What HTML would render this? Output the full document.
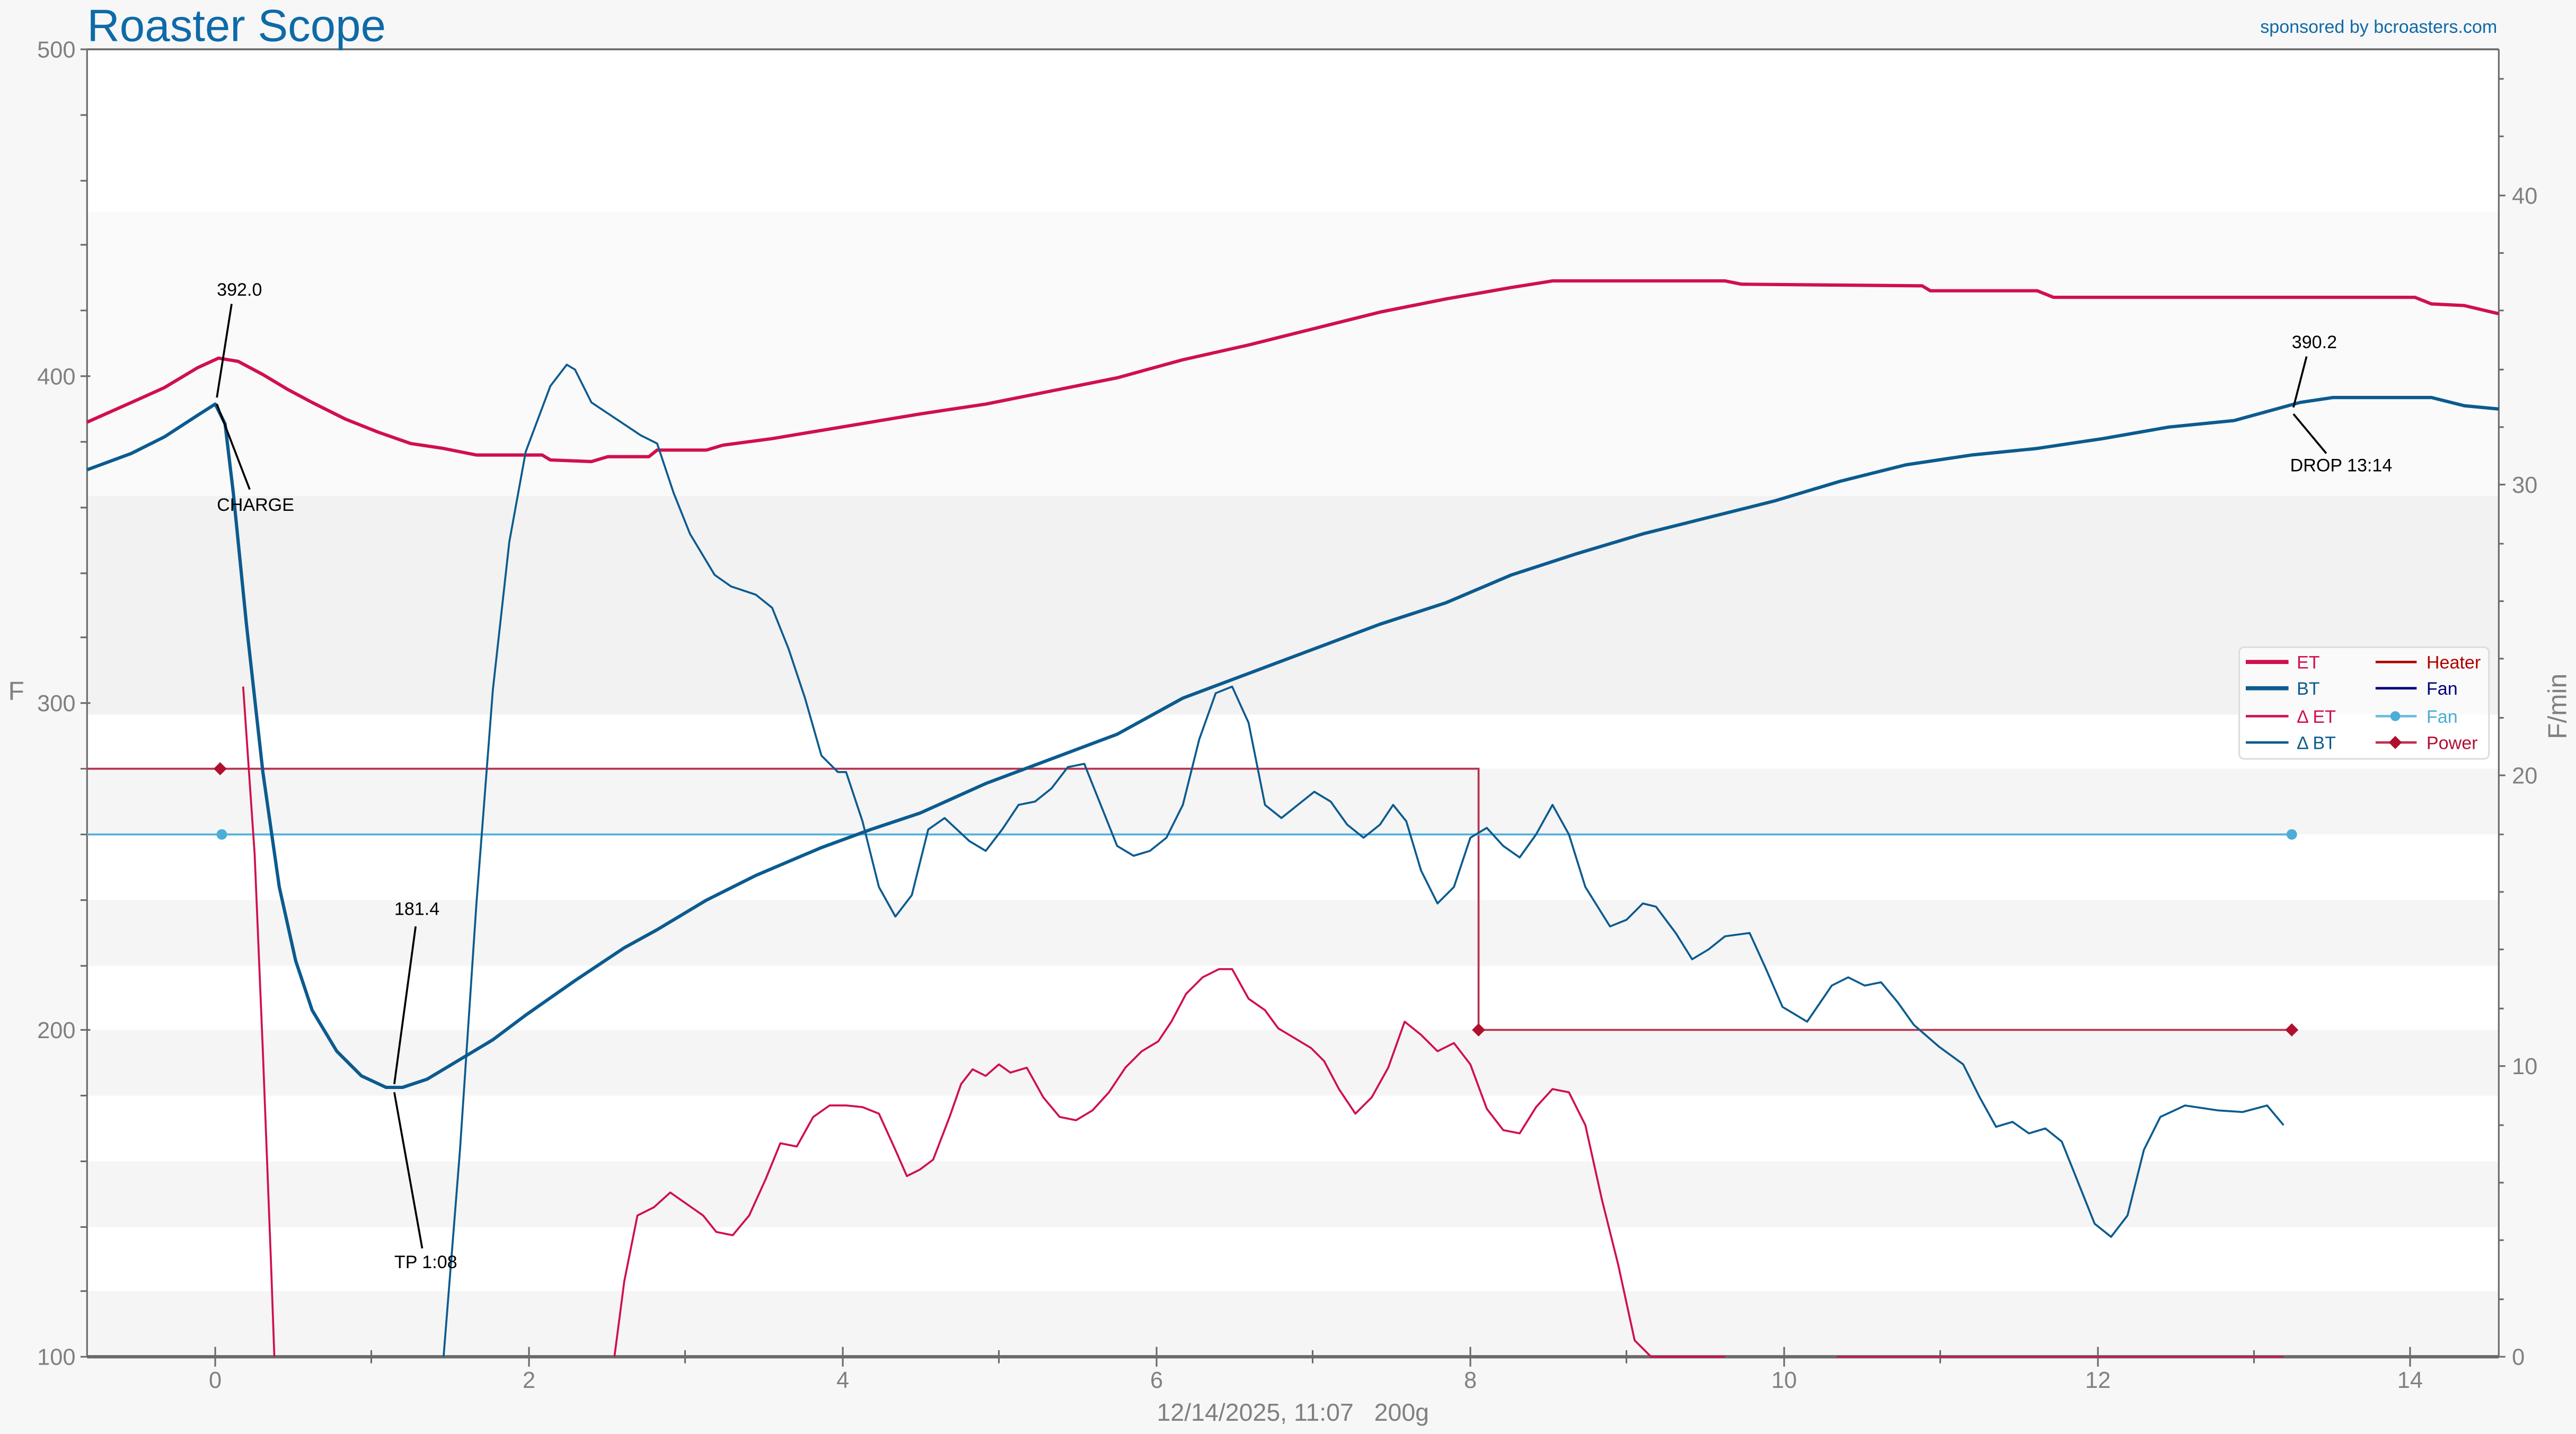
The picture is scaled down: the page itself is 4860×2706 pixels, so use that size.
<!DOCTYPE html>
<html><head><meta charset="utf-8"><style>
html,body{margin:0;padding:0;background:#f7f7f7;}
svg{display:block;font-family:"Liberation Sans",sans-serif;}
</style></head><body>
<svg width="4860" height="2706" viewBox="0 0 1568 873" xmlns="http://www.w3.org/2000/svg">
<rect x="0" y="0" width="1568" height="873" fill="#f7f7f7"/>
<rect x="53" y="30" width="1468" height="99" fill="#ffffff"/>
<rect x="53" y="129" width="1468" height="173" fill="#fafafa"/>
<rect x="53" y="302" width="1468" height="133" fill="#f2f2f2"/>
<rect x="53" y="435" width="1468" height="391" fill="#ffffff"/>
<g fill="#f5f5f5">
<rect x="53" y="468" width="1468" height="40"/>
<rect x="53" y="548" width="1468" height="40"/>
<rect x="53" y="627" width="1468" height="40"/>
<rect x="53" y="707" width="1468" height="40"/>
<rect x="53" y="786" width="1468" height="40"/>
</g>
<g stroke="#6a6a6a" fill="none">
<line x1="53" y1="30" x2="1521" y2="30" stroke-width="1.2"/>
<line x1="53" y1="826" x2="1521" y2="826" stroke-width="2"/>
<line x1="53" y1="30" x2="53" y2="826" stroke-width="1"/>
<line x1="1521" y1="30" x2="1521" y2="826" stroke-width="1"/>
<g stroke-width="1">
<path d="M49 30h6M49 70h4M49 110h4M49 149h4M49 189h4M49 229h6M49 269h4M49 309h4M49 349h4M49 388h4M49 428h6M49 468h4M49 508h4M49 548h4M49 588h4M49 627h6M49 667h4M49 707h4M49 747h4M49 786h4M49 826h6"/>
<path d="M1521 826h4M1521 791h3M1521 755h3M1521 720h3M1521 685h3M1521 649h4M1521 614h3M1521 578h3M1521 543h3M1521 508h3M1521 472h4M1521 437h3M1521 401h3M1521 366h3M1521 331h3M1521 295h4M1521 260h3M1521 225h3M1521 189h3M1521 154h3M1521 119h4M1521 83h3M1521 48h3"/>
<path d="M131 820v12M322 820v12M513 820v12M704 820v12M895 820v12M1086 820v12M1277 820v12M1467 820v12M226 822v8M417 822v8M608 822v8M799 822v8M990 822v8M1181 822v8M1372 822v8"/>
</g>
</g>
<g fill="#808080" font-size="14">
<g text-anchor="end"><text x="46" y="35">500</text><text x="46" y="234">400</text><text x="46" y="433">300</text><text x="46" y="632">200</text><text x="46" y="831">100</text></g>
<text x="1529" y="831">0</text><text x="1529" y="654">10</text><text x="1529" y="477">20</text><text x="1529" y="300">30</text><text x="1529" y="124">40</text>
<g text-anchor="middle"><text x="131" y="845">0</text><text x="322" y="845">2</text><text x="513" y="845">4</text><text x="704" y="845">6</text><text x="895" y="845">8</text><text x="1086" y="845">10</text><text x="1277" y="845">12</text><text x="1467" y="845">14</text>
<text x="787" y="865" font-size="15">12/14/2025, 11:07&#160;&#160;&#160;200g</text></g>
<text x="5" y="426" font-size="16">F</text>
<text transform="translate(1562,430) rotate(-90)" text-anchor="middle" font-size="16">F/min</text>
</g>
<text x="53" y="25" font-size="27.5" fill="#0e6aa8">Roaster Scope</text>
<text x="1520" y="20" font-size="11" fill="#0e6aa8" text-anchor="end">sponsored by bcroasters.com</text>
<polyline fill="none" stroke="#b8324f" stroke-width="1.2" points="53,468 900,468 900,627 1395,627"/>
<polyline fill="none" stroke="#56b0d8" stroke-width="1.2" points="53,508 1395,508"/>
<g fill="#b0102e"><path d="M134 464l4 4-4 4-4-4z"/><path d="M900 623l4 4-4 4-4-4z"/><path d="M1395 623l4 4-4 4-4-4z"/></g>
<g fill="#4aaed6"><circle cx="135" cy="508" r="3.2"/><circle cx="1395" cy="508" r="3.2"/></g>
<polyline fill="none" stroke="#d0104c" stroke-width="2" stroke-linejoin="round" points="53,257 80,245 100,236 120,224 133,218 145,220 160,228 175,237 190,245 210,255 230,263 250,270 270,273 290,277 330,277 335,280 360,281 370,278 395,278 400,274 430,274 440,271 470,267 500,262 530,257 560,252 600,246 640,238 680,230 720,219 760,210 800,200 840,190 880,182 920,175 945,171 1050,171 1060,173 1170,174 1175,177 1240,177 1250,181 1470,181 1480,185 1500,186 1521,191"/>
<polyline fill="none" stroke="#0b5b8f" stroke-width="2" stroke-linejoin="round" points="53,286 80,276 100,266 120,253 131,246 137,258 142,300 150,380 160,470 170,540 180,585 190,615 205,640 220,655 235,662 245,662 260,657 280,645 300,633 320,618 350,597 380,577 400,566 430,548 460,533 500,516 530,505 560,495 600,477 640,462 680,447 720,425 760,410 800,395 840,380 880,367 920,350 960,337 1000,325 1040,315 1080,305 1120,293 1160,283 1200,277 1240,273 1280,267 1320,260 1360,256 1400,245 1420,242 1480,242 1500,247 1521,249"/>
<polyline fill="none" stroke="#0b5b8f" stroke-width="1.2" stroke-linejoin="round" points="270,826 280,700 290,550 300,420 310,330 320,275 335,235 345,222 350,225 360,245 375,255 390,265 400,270 410,300 420,325 435,350 445,357 460,362 470,370 480,395 490,425 500,460 510,470 515,470 525,500 535,540 545,558 555,545 565,505 575,498 590,512 600,518 610,505 620,490 630,488 640,480 650,467 660,465 670,490 680,515 690,521 700,518 710,510 720,490 730,450 740,422 750,418 760,440 770,490 780,498 790,490 800,482 810,488 820,502 830,510 840,502 848,490 856,500 865,530 875,550 885,540 895,510 905,504 915,515 925,522 935,508 945,490 955,508 965,540 980,564 990,560 1000,550 1008,552 1020,568 1030,584 1040,578 1050,570 1065,568 1075,590 1085,613 1100,622 1115,600 1125,595 1135,600 1145,598 1155,610 1165,624 1180,637 1195,648 1205,668 1215,686 1225,683 1235,690 1245,687 1255,695 1265,720 1275,745 1285,753 1295,740 1305,700 1315,680 1330,673 1350,676 1365,677 1380,673 1390,685"/>
<polyline fill="none" stroke="#d0104c" stroke-width="1.2" stroke-linejoin="round" points="148,418 155,520 160,640 165,770 167,826"/>
<polyline fill="none" stroke="#d0104c" stroke-width="1.2" stroke-linejoin="round" points="374,826 380,780 388,740 398,735 408,726 418,733 428,740 436,750 446,752 456,740 466,718 475,696 485,698 495,680 505,673 515,673 525,674 535,678 545,700 552,716 560,712 568,706 578,680 585,660 592,651 600,655 608,648 615,653 625,650 635,668 645,680 655,682 665,676 675,665 685,650 695,640 705,634 713,622 722,605 732,595 742,590 750,590 760,608 770,615 778,626 788,632 798,638 806,646 815,663 825,678 835,668 845,650 855,622 865,630 875,640 885,635 895,648 905,675 915,688 925,690 935,674 945,663 955,665 965,685 975,730 985,770 995,816 1005,826 1050,826"/>
<polyline fill="none" stroke="#d0104c" stroke-width="1" points="1118,826 1170,826 1310,826 1390,826"/>
<g stroke="#000" stroke-width="1.2" fill="none">
<path d="M141 185L132 242M132 246L152 298M253 564L240 660M240 665L257 760M1404 217L1396 248M1396 252L1416 276"/>
</g>
<g font-size="11" fill="#000">
<text x="132" y="180">392.0</text><text x="132" y="311">CHARGE</text>
<text x="240" y="557">181.4</text><text x="240" y="772">TP 1:08</text>
<text x="1395" y="212">390.2</text><text x="1394" y="287">DROP 13:14</text>
</g>
<rect x="1363" y="394" width="152" height="68" rx="3" fill="#ffffff" fill-opacity="0.6" stroke="#dddddd"/>
<g>
<line x1="1367" y1="403" x2="1393" y2="403" stroke="#d0104c" stroke-width="2.5"/>
<line x1="1367" y1="419" x2="1393" y2="419" stroke="#0b5b8f" stroke-width="2.5"/>
<line x1="1367" y1="436" x2="1393" y2="436" stroke="#d0104c" stroke-width="1.5"/>
<line x1="1367" y1="452" x2="1393" y2="452" stroke="#0b5b8f" stroke-width="1.5"/>
<line x1="1446" y1="403" x2="1471" y2="403" stroke="#b00000" stroke-width="1.5"/>
<line x1="1446" y1="419" x2="1471" y2="419" stroke="#000080" stroke-width="1.5"/>
<line x1="1446" y1="436" x2="1471" y2="436" stroke="#6cbbe0" stroke-width="1.5"/>
<line x1="1446" y1="452" x2="1471" y2="452" stroke="#c03050" stroke-width="1.5"/>
</g>
<circle cx="1458" cy="436" r="3" fill="#4aaed6"/>
<path d="M1458 448l4 4-4 4-4-4z" fill="#b0102e"/>
<g font-size="11">
<text x="1398" y="407" fill="#d0104c">ET</text>
<text x="1398" y="423" fill="#0b5b8f">BT</text>
<text x="1398" y="440" fill="#d0104c">Δ ET</text>
<text x="1398" y="456" fill="#0b5b8f">Δ BT</text>
<text x="1477" y="407" fill="#b00000">Heater</text>
<text x="1477" y="423" fill="#000080">Fan</text>
<text x="1477" y="440" fill="#4aaed6">Fan</text>
<text x="1477" y="456" fill="#b0102e">Power</text>
</g>
</svg>
</body></html>
